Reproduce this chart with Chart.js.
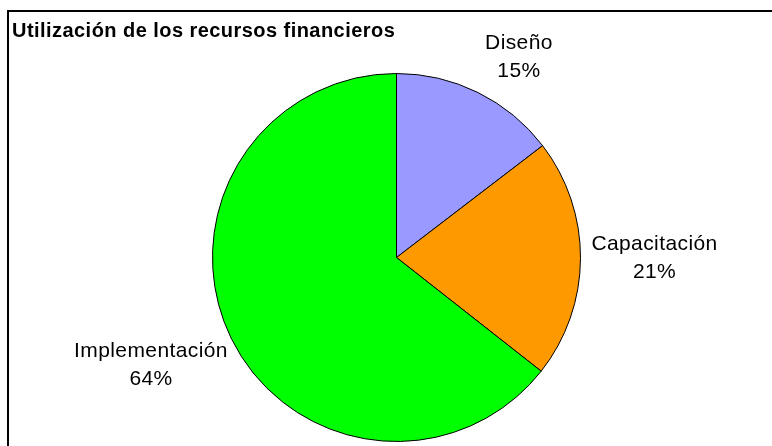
<!DOCTYPE html>
<html>
<head>
<meta charset="utf-8">
<title>Utilización de los recursos financieros</title>
<script src="https://cdn.jsdelivr.net/npm/chart.js@4.4.1/dist/chart.umd.min.js"></script>
<style>
  html, body { margin: 0; padding: 0; background: #ffffff; }
  #chart { display: block; }
</style>
</head>
<body>
<canvas id="chart" width="772" height="446"></canvas>
<script>
// Data
const chartTitle = "Utilización de los recursos financieros";
const categories = ["Diseño", "Capacitación", "Implementación"];
const shares = [14.6, 21.0, 64.4];

// Styles
const sliceColors = ["#9999FF", "#FF9900", "#00FF00"];
// nudge from the arc edge (at mid angle) to the label centre
const labelOffsets = [[41, -35], [74, 0], [-80, 27]];

// title, frame and outside labels
const decorPlugin = {
  id: "decor",
  afterDraw(chart) {
    const ctx = chart.ctx;
    ctx.save();

    // frame: top and left lines only
    ctx.strokeStyle = "#000";
    ctx.lineWidth = 2;
    ctx.beginPath();
    ctx.moveTo(8, 446);
    ctx.lineTo(8, 11);
    ctx.lineTo(772, 11);
    ctx.stroke();

    // title
    ctx.fillStyle = "#000";
    ctx.textAlign = "left";
    ctx.textBaseline = "alphabetic";
    ctx.font = "bold 20px 'Liberation Sans', Arial, sans-serif";
    if ("letterSpacing" in ctx) ctx.letterSpacing = "0.45px";
    ctx.fillText(chartTitle, 12, 37);

    // slice labels
    const total = shares.reduce((a, b) => a + b, 0);
    const meta = chart.getDatasetMeta(0);
    ctx.font = "21px 'Liberation Sans', Arial, sans-serif";
    if ("letterSpacing" in ctx) ctx.letterSpacing = "0.4px";
    ctx.textAlign = "center";
    ctx.textBaseline = "middle";
    meta.data.forEach((arc, i) => {
      const mid = (arc.startAngle + arc.endAngle) / 2;
      const ex = arc.x + Math.cos(mid) * arc.outerRadius;
      const ey = arc.y + Math.sin(mid) * arc.outerRadius;
      const cx = ex + labelOffsets[i][0];
      const cy = ey + labelOffsets[i][1];
      const pct = Math.round((shares[i] / total) * 100) + "%";
      ctx.fillText(categories[i], cx, cy - 14);
      ctx.fillText(pct, cx, cy + 14);
    });

    ctx.restore();
  },
};

const ctx = document.getElementById("chart").getContext("2d");
new Chart(ctx, {
  type: "pie",
  data: {
    labels: categories,
    datasets: [
      {
        data: shares,
        backgroundColor: sliceColors,
        borderColor: "#000000",
        borderWidth: 1,
      },
    ],
  },
  options: {
    responsive: false,
    animation: false,
    layout: {
      padding: { left: 212, top: 73, right: 191, bottom: 4 },
    },
    plugins: {
      legend: { display: false },
      tooltip: { enabled: false },
      title: { display: false },
    },
  },
  plugins: [decorPlugin],
});
</script>
</body>
</html>
